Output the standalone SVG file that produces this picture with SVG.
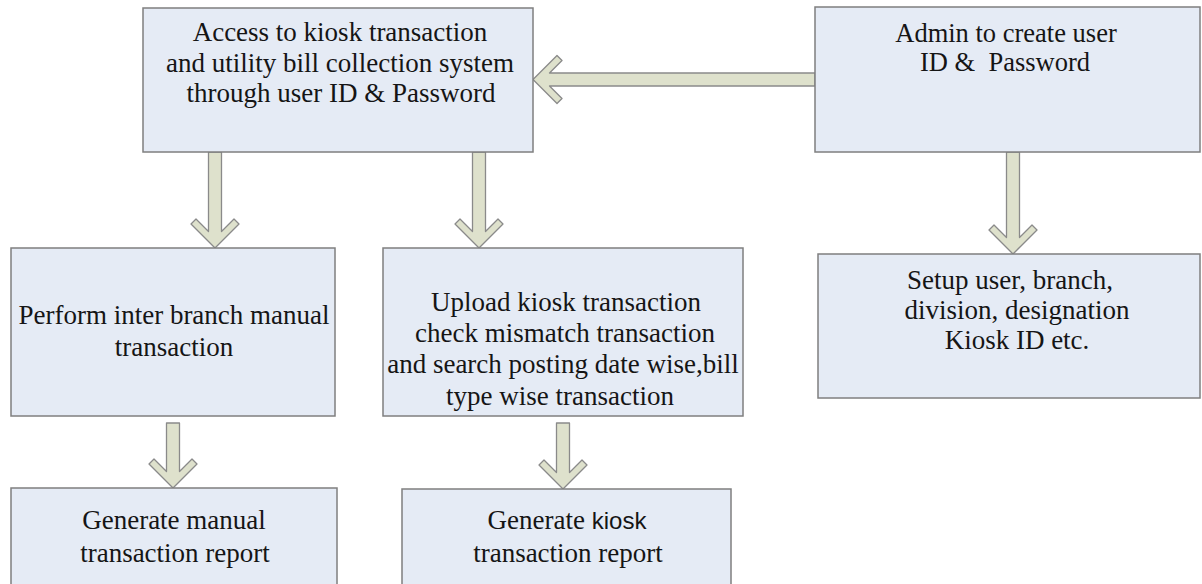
<svg xmlns="http://www.w3.org/2000/svg" width="1202" height="584" viewBox="0 0 1202 584">
<style>
.box{fill:#e5ebf5;stroke:#7f7f7f;stroke-width:1.5}
.arr{fill:#dee1cc;stroke:#8a8a8a;stroke-width:1.3;stroke-linejoin:round}
.t{font-family:"Liberation Serif","Times New Roman",serif;font-size:27px;fill:#151515;text-anchor:middle;white-space:pre}
.a{font-size:26.5px}
.s{font-family:"Liberation Sans",Arial,sans-serif;font-size:24px}
</style>
<rect width="1202" height="584" fill="#ffffff"/>
<g id="connectors">
<path class="arr" d="M815,73 L815,86 L549.5,86 L562,98.5 L557,103.5 L533,79.5 L557,55.5 L562,60.5 L549.5,73 Z"/>
<path class="arr" d="M208.5,152 L221.5,152 L221.5,231.5 L234,219 L239,224 L215,248 L191,224 L196,219 L208.5,231.5 Z"/>
<path class="arr" d="M472.5,152 L485.5,152 L485.5,231.5 L498,219 L503,224 L479,248 L455,224 L460,219 L472.5,231.5 Z"/>
<path class="arr" d="M1006.5,152 L1019.5,152 L1019.5,237.5 L1032,225 L1037,230 L1013,254 L989,230 L994,225 L1006.5,237.5 Z"/>
<path class="arr" d="M166.5,423 L179.5,423 L179.5,471.5 L192,459 L197,464 L173,488 L149,464 L154,459 L166.5,471.5 Z"/>
<path class="arr" d="M556.5,423 L569.5,423 L569.5,472.5 L582,460 L587,465 L563,489 L539,465 L544,460 L556.5,472.5 Z"/>
</g>
<g id="access">
<rect class="box" x="143" y="8" width="390" height="144"/>
<text class="t" x="340" y="41">Access to kiosk transaction</text>
<text class="t" x="340" y="72">and utility bill collection system</text>
<text class="t" x="341" y="102">through user ID &amp; Password</text>
</g>
<g id="admin">
<rect class="box" x="815" y="7" width="385" height="145"/>
<text class="t a" x="1006" y="42">Admin to create user</text>
<text class="t a" x="1005" y="71">ID &amp;  Password</text>
</g>
<g id="perform">
<rect class="box" x="11" y="248" width="324" height="168"/>
<text class="t" x="174" y="324">Perform inter branch manual</text>
<text class="t" x="174" y="356">transaction</text>
</g>
<g id="upload">
<rect class="box" x="383" y="248" width="360" height="168"/>
<text class="t" x="566" y="311">Upload kiosk transaction</text>
<text class="t" x="565" y="342">check mismatch transaction</text>
<text class="t" x="563" y="373">and search posting date wise,bill</text>
<text class="t" x="560" y="405">type wise transaction</text>
</g>
<g id="setup">
<rect class="box" x="818" y="254" width="382" height="144"/>
<text class="t" x="1010" y="289">Setup user, branch,</text>
<text class="t" x="1017" y="319">division, designation</text>
<text class="t" x="1017" y="349">Kiosk ID etc.</text>
</g>
<g id="gen-manual">
<rect class="box" x="11" y="488" width="326" height="110"/>
<text class="t" x="174" y="529">Generate manual</text>
<text class="t" x="175" y="562">transaction report</text>
</g>
<g id="gen-kiosk">
<rect class="box" x="402" y="489" width="329" height="110"/>
<text class="t" x="567" y="529">Generate <tspan class="s">kiosk</tspan></text>
<text class="t" x="568" y="562">transaction report</text>
</g>
</svg>
